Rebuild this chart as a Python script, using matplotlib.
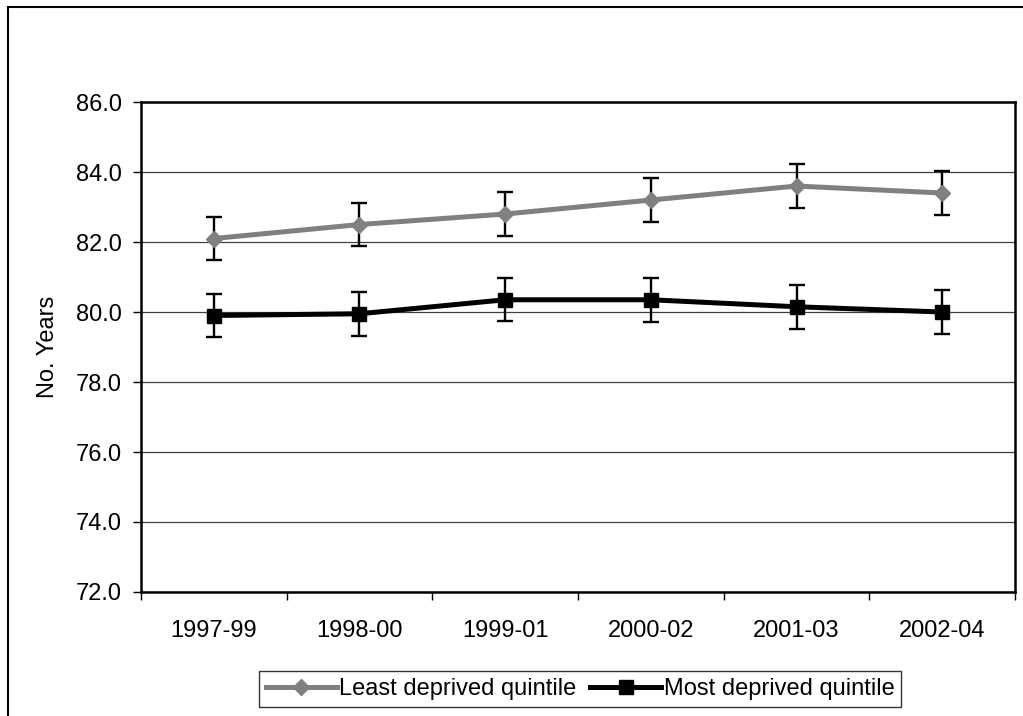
import matplotlib.pyplot as plt
from matplotlib.patches import Rectangle
from matplotlib.ticker import FixedLocator

plt.rcParams['font.family'] = ['Liberation Sans', 'DejaVu Sans']

# Life expectancy by period (years), with 95% CI half-widths
periods = ['1997-99', '1998-00', '1999-01', '2000-02', '2001-03', '2002-04']
least_deprived = [82.1, 82.5, 82.8, 83.2, 83.6, 83.4]
least_ci = [0.62, 0.62, 0.62, 0.62, 0.62, 0.64]
most_deprived = [79.9, 79.95, 80.35, 80.35, 80.15, 80.0]
most_ci = [0.62, 0.63, 0.62, 0.63, 0.63, 0.62]

fig = plt.figure(figsize=(10.23, 7.16), dpi=100)
ax = fig.add_axes([0.1378, 0.1732, 0.9922 - 0.1378, 0.8575 - 0.1732])

x = list(range(len(periods)))

# error bars sit behind the series lines
ax.errorbar(x, least_deprived, yerr=least_ci, fmt='none', ecolor='black',
            elinewidth=1.7, capsize=6, capthick=1.7, zorder=3)
ax.errorbar(x, most_deprived, yerr=most_ci, fmt='none', ecolor='black',
            elinewidth=1.7, capsize=6, capthick=1.7, zorder=3)

ax.plot(x, least_deprived, color='#808080', linewidth=3.6, marker='D',
        markersize=8.5, markeredgecolor='#808080', label='Least deprived quintile', zorder=4)
ax.plot(x, most_deprived, color='black', linewidth=3.6, marker='s',
        markersize=10.5, markeredgecolor='black', label='Most deprived quintile', zorder=4)

ax.set_ylim(72, 86)
ax.set_xlim(-0.5, len(periods) - 0.5)
ax.set_yticks([72, 74, 76, 78, 80, 82, 84, 86])
ax.set_yticklabels(['%.1f' % v for v in ax.get_yticks()])
ax.set_xticks(x)
ax.set_xticklabels(periods)
ax.xaxis.set_minor_locator(FixedLocator([i - 0.5 for i in range(len(periods) + 1)]))

ax.tick_params(axis='y', direction='out', length=6, width=1, pad=8, labelsize=17)
ax.tick_params(axis='x', which='major', length=0, pad=20, labelsize=17)
ax.tick_params(axis='x', which='minor', direction='out', length=6, width=1)

ax.grid(axis='y', color='#404040', linewidth=0.9)
ax.set_axisbelow(True)
for side in ax.spines.values():
    side.set_linewidth(1.8)
    side.set_color('black')

ax.set_ylabel('No. Years', fontsize=17, labelpad=12)

leg = fig.legend(loc='center', bbox_to_anchor=(0.567, 0.0377), ncol=2, fontsize=17,
                 frameon=True, fancybox=False, edgecolor='black', handlelength=3.0,
                 handletextpad=0.1, columnspacing=0.6, borderpad=0.28,
                 borderaxespad=0)
leg.get_frame().set_linewidth(1.0)

# outer frame around the chart area
fig.patches.append(Rectangle((8 / 1023, -0.2), 1.2, 1.2 - 7 / 716, transform=fig.transFigure,
                             fill=False, edgecolor='black', linewidth=1.5, clip_on=False))

fig.savefig('out.png', dpi=100)
